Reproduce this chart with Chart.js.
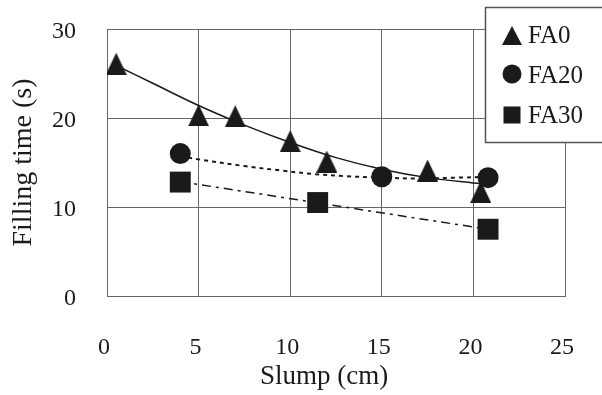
<!DOCTYPE html>
<html>
<head>
<meta charset="utf-8">
<script src="https://cdn.jsdelivr.net/npm/chart.js@4.4.0/dist/chart.umd.min.js"></script>
<style>
  body { margin: 0; background: #fff; }
  canvas { display: block; }
</style>
</head>
<body>
<canvas id="mycanvas" width="602" height="395"></canvas>
<script>
// measured points
var seriesNames = ["FA0", "FA20", "FA30"];
var slumpFA0 = [0.5, 5, 7, 10, 12, 17.5, 20.4];
var timeFA0 = [26.1, 20.3, 20.2, 17.4, 15.1, 14.1, 11.7];
var slumpFA20 = [4, 15, 20.8];
var timeFA20 = [16.0, 13.4, 13.3];
var slumpFA30 = [4, 11.5, 20.8];
var timeFA30 = [12.8, 10.5, 7.5];

// trend lines
var trendXFA0 = [0.5, 2.5, 5, 7.5, 10, 12.5, 15, 17.5, 20.4];
var trendYFA0 = [25.9, 23.9, 21.4, 19.2, 17.25, 15.55, 14.25, 13.3, 12.6];
var trendXFA20 = [4, 5, 7.5, 9.5, 11.3, 13.1, 15, 17, 19.2, 20.8];
var trendYFA20 = [15.7, 15.35, 14.6, 14.1, 13.7, 13.45, 13.3, 13.2, 13.3, 13.4];
var trendXFA30 = [4, 20.8];
var trendYFA30 = [12.85, 7.5];

var xTicks = [0, 5, 10, 15, 20, 25];
var yTicks = [0, 10, 20, 30];
var xTitle = "Slump (cm)";
var yTitle = "Filling time (s)";

var ink = "#1a1a1a";
var gridCol = "#666666";
var serif = '"Liberation Serif", "Times New Roman", serif';

function pts(xs, ys) {
	var out = [];
	for (var i in xs) {
		out.push({x: xs[i], y: ys[i]});
	}
	return out;
}

function triangleImg(w, h) {
	var c = document.createElement("canvas");
	c.width = w;
	c.height = h;
	var g = c.getContext("2d");
	g.fillStyle = ink;
	g.beginPath();
	g.moveTo(w / 2, 0);
	g.lineTo(w, h);
	g.lineTo(0, h);
	g.closePath();
	g.fill();
	return c;
}

var tri = triangleImg(21, 22);
var triSmall = triangleImg(20, 19);

var legendBox = {
	id: "legendBox",
	afterDraw: function(chart) {
		var ctx = chart.ctx;
		ctx.save();

		// x axis title sits a little left of the plot centre in the original
		ctx.fillStyle = ink;
		ctx.font = "27px " + serif;
		ctx.textAlign = "center";
		ctx.textBaseline = "alphabetic";
		ctx.fillText(xTitle, 324, 384);

		ctx.fillStyle = "#fff";
		ctx.fillRect(485, 7, 130, 135);
		ctx.strokeStyle = "#555";
		ctx.lineWidth = 1.5;
		ctx.strokeRect(485.5, 7.5, 130, 135);

		ctx.fillStyle = ink;
		// markers
		ctx.drawImage(triSmall, 502, 26);
		ctx.beginPath();
		ctx.arc(512, 74, 9.5, 0, Math.PI * 2);
		ctx.fill();
		ctx.fillRect(503.5, 106.5, 17, 17);

		ctx.font = "25px " + serif;
		ctx.textAlign = "left";
		var baselines = [43, 82.5, 123];
		for (var i = 0; i < seriesNames.length; i++) {
			ctx.fillText(seriesNames[i], 528, baselines[i]);
		}
		ctx.restore();
	}
};

var chartdata = {
	datasets: [
		{
			label: seriesNames[0],
			data: pts(slumpFA0, timeFA0),
			pointStyle: tri,
			pointRadius: 11,
			backgroundColor: ink,
			borderWidth: 0,
			order: 1
		},
		{
			label: seriesNames[1],
			data: pts(slumpFA20, timeFA20),
			pointStyle: "circle",
			pointRadius: 10.5,
			backgroundColor: ink,
			borderWidth: 0,
			order: 2
		},
		{
			label: seriesNames[2],
			data: pts(slumpFA30, timeFA30),
			pointStyle: "rect",
			pointRadius: 14.8,
			backgroundColor: ink,
			borderWidth: 0,
			order: 3
		},
		{
			label: "FA0 trend",
			data: pts(trendXFA0, trendYFA0),
			showLine: true,
			borderColor: ink,
			borderWidth: 1.5,
			pointRadius: 0,
			tension: 0.35,
			order: 4
		},
		{
			label: "FA20 trend",
			data: pts(trendXFA20, trendYFA20),
			showLine: true,
			borderColor: ink,
			borderWidth: 2,
			borderDash: [4, 4],
			pointRadius: 0,
			tension: 0.35,
			order: 5
		},
		{
			label: "FA30 trend",
			data: pts(trendXFA30, trendYFA30),
			showLine: true,
			borderColor: ink,
			borderWidth: 1.5,
			borderDash: [9, 5, 3, 5],
			pointRadius: 0,
			order: 6
		}
	]
};

// keep the plot box where the picture has it
function noPad(s) {
	s.paddingTop = 0;
	s.paddingBottom = 0;
	s.paddingLeft = 0;
	s.paddingRight = 0;
}

var ctx = document.getElementById("mycanvas");

var graph = new Chart(ctx, {
	type: "scatter",
	data: chartdata,
	options: {
		responsive: false,
		animation: false,
		events: [],
		layout: {padding: {top: 29, right: 37, left: 0, bottom: 0}},
		plugins: {
			legend: {display: false},
			tooltip: {enabled: false}
		},
		scales: {
			x: {
				type: "linear",
				min: xTicks[0],
				max: xTicks[xTicks.length - 1],
				afterBuildTicks: function(s) {
					s.ticks = xTicks.map(function(v) { return {value: v}; });
				},
				afterFit: function(s) { s.height = 99; noPad(s); },
				ticks: {
					padding: 37,
					labelOffset: -3,
					maxRotation: 0,
					color: ink,
					font: {family: serif, size: 24}
				},
				grid: {color: gridCol, lineWidth: 1, drawTicks: false},
				border: {color: gridCol, width: 1},
				title: {display: false}
			},
			y: {
				type: "linear",
				min: yTicks[0],
				max: yTicks[yTicks.length - 1],
				afterBuildTicks: function(s) {
					s.ticks = yTicks.map(function(v) { return {value: v}; });
				},
				afterFit: function(s) { s.width = 107; noPad(s); },
				ticks: {
					padding: 31,
					labelOffset: 3,
					color: ink,
					font: {family: serif, size: 24}
				},
				grid: {color: gridCol, lineWidth: 1, drawTicks: false},
				border: {color: gridCol, width: 1},
				title: {
					display: true,
					text: yTitle,
					color: ink,
					font: {family: serif, size: 28},
					padding: {top: 7, bottom: 0}
				}
			}
		}
	},
	plugins: [legendBox]
});
</script>
</body>
</html>
